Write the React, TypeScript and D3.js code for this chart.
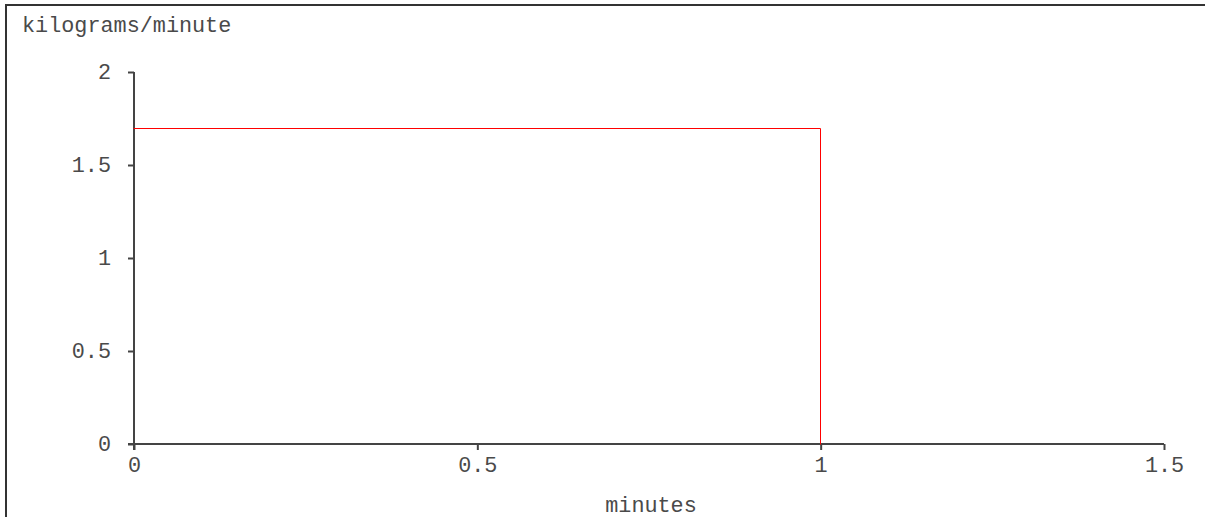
import { useEffect, useRef } from "react";
import * as d3 from "d3";

const W = 1205;
const H = 517;

// flow step: kg/min over minutes
const stepX = [0, 1, 1];
const stepY = [1.7, 1.7, 0];
const xTicks = [0, 0.5, 1, 1.5];
const yTicks = [0, 0.5, 1, 1.5, 2];
const yTitle = "kilograms/minute";
const xTitle = "minutes";

const App = () => {
  const ref = useRef<SVGSVGElement>(null);

  useEffect(() => {
    document.body.style.margin = "0";
    document.body.style.overflow = "hidden";

    const svg = d3.select(ref.current);
    svg.selectAll("*").remove();

    const x = d3.scaleLinear().domain([0, 1.5]).range([134, 1164]);
    const y = d3.scaleLinear().domain([0, 2]).range([444, 72]);
    const font = "'Courier New', 'Liberation Mono', monospace";
    const fontSize = 21.8;
    const axisColor = "#444";
    const textColor = "#4a4a4a";

    // outer frame (only top and left edges show)
    svg
      .append("path")
      .attr("d", `M6,${H + 10} L6,5 L${W + 10},5`)
      .attr("fill", "none")
      .attr("stroke", "#333")
      .attr("stroke-width", 2);

    svg
      .append("text")
      .attr("x", 22)
      .attr("y", 32)
      .attr("font-family", font)
      .attr("font-size", fontSize)
      .attr("fill", textColor)
      .text(yTitle);

    // y axis
    const gy = svg.append("g").attr("transform", `translate(${x(0)},0)`);
    gy.call(
      d3
        .axisLeft(y)
        .tickValues(yTicks)
        .tickSize(6)
        .tickPadding(17)
        .tickFormat((d) => String(d))
    );
    gy.select(".domain").remove();
    gy.append("line")
      .attr("y1", y(2))
      .attr("y2", y(0) + 6)
      .attr("stroke", axisColor)
      .attr("stroke-width", 2);

    // x axis
    const gx = svg.append("g").attr("transform", `translate(0,${y(0)})`);
    gx.call(
      d3
        .axisBottom(x)
        .tickValues(xTicks)
        .tickSize(6)
        .tickPadding(7)
        .tickFormat((d) => String(d))
    );
    gx.select(".domain").remove();
    gx.append("line")
      .attr("x1", x(0) - 6)
      .attr("x2", x(1.5))
      .attr("stroke", axisColor)
      .attr("stroke-width", 2);

    svg
      .selectAll(".tick line")
      .attr("stroke", axisColor)
      .attr("stroke-width", 2);
    svg
      .selectAll(".tick text")
      .attr("font-family", font)
      .attr("font-size", fontSize)
      .attr("fill", textColor);

    svg
      .append("text")
      .attr("x", 651)
      .attr("y", 512)
      .attr("text-anchor", "middle")
      .attr("font-family", font)
      .attr("font-size", fontSize)
      .attr("fill", textColor)
      .text(xTitle);

    const pts: [number, number][] = stepX.map((d, i) => [d, stepY[i]]);
    svg
      .append("path")
      .datum(pts)
      .attr("fill", "none")
      .attr("stroke", "#f00")
      .attr("stroke-width", 1)
      .attr(
        "d",
        d3
          .line<[number, number]>()
          .x((d) => Math.round(x(d[0])) - 0.5)
          .y((d) => Math.round(y(d[1])) + 0.5)
      );
  }, []);

  return (
    <svg
      ref={ref}
      width={W}
      height={H}
      style={{ position: "absolute", left: 0, top: 0, background: "#fff" }}
    ></svg>
  );
};

export default App;
